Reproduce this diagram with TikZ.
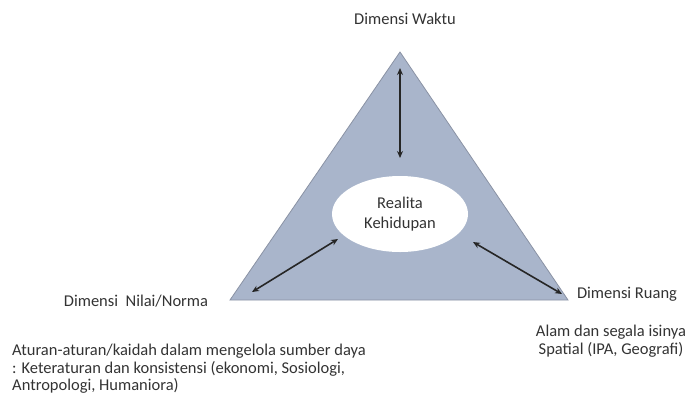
\documentclass[tikz,border=0pt]{standalone}
\usepackage{fontspec}
\setmainfont{Carlito}
\usetikzlibrary{arrows.meta,shapes.geometric}
\definecolor{trifill}{HTML}{A9B5CB}
\definecolor{triedge}{HTML}{8A92A4}
\definecolor{txt}{HTML}{333333}
\begin{document}
\begin{tikzpicture}[x=1pt,y=-1pt,
  lbl/.style={text=txt,font=\fontsize{16.5}{17.5}\selectfont,inner sep=0pt},
  dbl/.style={{Stealth[length=7pt,width=6pt]}-{Stealth[length=7pt,width=6pt]},line width=1.6pt,black!85}]
\useasboundingbox (0,0) rectangle (690,413);
\coordinate (apex) at (400,52);
\coordinate (bl) at (230,300);
\coordinate (br) at (568,300);
\fill[trifill,draw=triedge,line width=0.8pt] (apex) -- (br) -- (bl) -- cycle;
\node[ellipse,fill=white,minimum width=136pt,minimum height=76pt,inner sep=0pt] (core) at (400,214) {};
\node[lbl,align=center] (coretxt) at (400,214) {Realita\\[3pt]Kehidupan};
\coordinate (a1) at (400,68);
\coordinate (a2) at (400,158);
\coordinate (b1) at (252,292);
\coordinate (b2) at (338,239);
\coordinate (c1) at (473,242);
\coordinate (c2) at (562,294);
\draw[dbl] (a1) -- (a2);
\draw[dbl] (b1) -- (b2);
\draw[dbl] (c1) -- (c2);
\node[lbl] (waktu) at (405,19) {Dimensi Waktu};
\node[lbl] (nilai) at (136,301) {Dimensi\ \ Nilai/Norma};
\node[lbl] (ruang) at (627,294) {Dimensi Ruang};
\node[lbl,align=center] (alam) at (611,341) {Alam dan segala isinya\\Spatial (IPA, Geografi)};
\node[lbl,align=left,anchor=north west] (aturan) at (12,344) {Aturan-aturan/kaidah dalam mengelola sumber daya\\: Keteraturan dan konsistensi (ekonomi, Sosiologi,\\Antropologi, Humaniora)};
\end{tikzpicture}
\end{document}
